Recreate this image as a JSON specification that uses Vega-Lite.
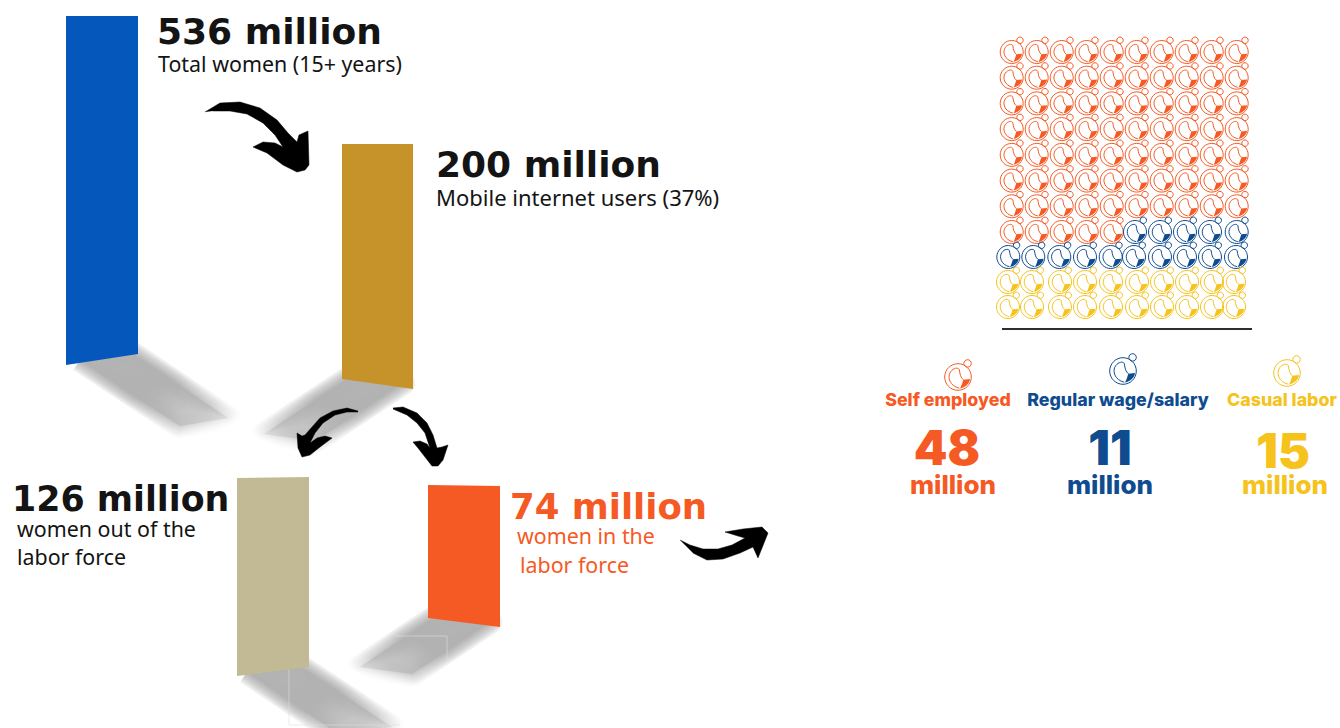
{
"$schema":"https://vega.github.io/schema/vega-lite/v6.json",
"width":1340,"height":728,"padding":0,"autosize":{"type":"none"},"background":"#ffffff",
"config":{"view":{"stroke":null}},
"params":[
{"name":"fadeRight","value":{"gradient":"linear","x1":0,"y1":0,"x2":1,"y2":1,"stops":[{"offset":0,"color":"rgba(150,150,150,0.95)"},{"offset":0.5,"color":"rgba(150,150,150,1)"},{"offset":0.8,"color":"rgba(150,150,150,0.55)"},{"offset":1,"color":"rgba(150,150,150,0)"}]}},
{"name":"fadeLeft","value":{"gradient":"linear","x1":1,"y1":0,"x2":0,"y2":1,"stops":[{"offset":0,"color":"rgba(150,150,150,0.95)"},{"offset":0.5,"color":"rgba(150,150,150,1)"},{"offset":0.8,"color":"rgba(150,150,150,0.55)"},{"offset":1,"color":"rgba(150,150,150,0)"}]}}
],
"datasets":{
"columns":[
{"stage":"Total women","x":66,"y":16,"y2":365},{"stage":"Total women","x":138,"y":16,"y2":354},
{"stage":"Mobile internet users","x":342,"y":144,"y2":379},{"stage":"Mobile internet users","x":413,"y":144,"y2":389},
{"stage":"Out of the labor force","x":237,"y":478,"y2":676},{"stage":"Out of the labor force","x":309,"y":477,"y2":667},
{"stage":"In the labor force","x":428,"y":485,"y2":618},{"stage":"In the labor force","x":500,"y":486,"y2":627}
],
"castsRight":[
{"stage":"Total women","seq":1,"x":80,"y":360},{"stage":"Total women","seq":2,"x":130,"y":352},{"stage":"Total women","seq":3,"x":228,"y":418},{"stage":"Total women","seq":4,"x":180,"y":426},{"stage":"Total women","seq":5,"x":80,"y":360},
{"stage":"Out of the labor force","seq":1,"x":247,"y":672},{"stage":"Out of the labor force","seq":2,"x":298,"y":665},{"stage":"Out of the labor force","seq":3,"x":392,"y":727},{"stage":"Out of the labor force","seq":4,"x":340,"y":735},{"stage":"Out of the labor force","seq":5,"x":247,"y":672}
],
"castsLeft":[
{"stage":"Mobile internet users","seq":1,"x":352,"y":376},{"stage":"Mobile internet users","seq":2,"x":403,"y":383},{"stage":"Mobile internet users","seq":3,"x":315,"y":441},{"stage":"Mobile internet users","seq":4,"x":264,"y":434},{"stage":"Mobile internet users","seq":5,"x":352,"y":376},
{"stage":"In the labor force","seq":1,"x":438,"y":615},{"stage":"In the labor force","seq":2,"x":490,"y":622},{"stage":"In the labor force","seq":3,"x":412,"y":674},{"stage":"In the labor force","seq":4,"x":360,"y":667},{"stage":"In the labor force","seq":5,"x":438,"y":615}
],
"seams":[
{"x":289,"x2":289,"y":668,"y2":725},{"x":289,"x2":400,"y":725,"y2":725},
{"x":395,"x2":447,"y":636,"y2":636},{"x":447,"x2":447,"y":636,"y2":662}
],
"arrows":[
{"arrow":"a","seq":1,"x":205,"y":112},{"arrow":"a","seq":2,"x":220,"y":103},{"arrow":"a","seq":3,"x":240,"y":102},{"arrow":"a","seq":4,"x":260,"y":108},{"arrow":"a","seq":5,"x":277,"y":120},{"arrow":"a","seq":6,"x":288,"y":133},{"arrow":"a","seq":7,"x":297,"y":142},{"arrow":"a","seq":8,"x":299,"y":135},{"arrow":"a","seq":9,"x":308,"y":131},{"arrow":"a","seq":10,"x":309,"y":165},{"arrow":"a","seq":11,"x":305,"y":170},{"arrow":"a","seq":12,"x":297,"y":172},{"arrow":"a","seq":13,"x":283,"y":165},{"arrow":"a","seq":14,"x":267,"y":153},{"arrow":"a","seq":15,"x":253,"y":147},{"arrow":"a","seq":16,"x":263,"y":142},{"arrow":"a","seq":17,"x":275,"y":143},{"arrow":"a","seq":18,"x":283,"y":147},{"arrow":"a","seq":19,"x":275,"y":135},{"arrow":"a","seq":20,"x":263,"y":123},{"arrow":"a","seq":21,"x":247,"y":114},{"arrow":"a","seq":22,"x":230,"y":111},{"arrow":"a","seq":23,"x":213,"y":111},
{"arrow":"b","seq":1,"x":358,"y":411},{"arrow":"b","seq":2,"x":347,"y":408},{"arrow":"b","seq":3,"x":333,"y":411},{"arrow":"b","seq":4,"x":320,"y":418},{"arrow":"b","seq":5,"x":312,"y":427},{"arrow":"b","seq":6,"x":305,"y":435},{"arrow":"b","seq":7,"x":302,"y":436},{"arrow":"b","seq":8,"x":297,"y":433},{"arrow":"b","seq":9,"x":298,"y":448},{"arrow":"b","seq":10,"x":302,"y":457},{"arrow":"b","seq":11,"x":310,"y":455},{"arrow":"b","seq":12,"x":320,"y":447},{"arrow":"b","seq":13,"x":332,"y":438},{"arrow":"b","seq":14,"x":325,"y":436},{"arrow":"b","seq":15,"x":317,"y":438},{"arrow":"b","seq":16,"x":310,"y":443},{"arrow":"b","seq":17,"x":315,"y":433},{"arrow":"b","seq":18,"x":323,"y":423},{"arrow":"b","seq":19,"x":335,"y":415},{"arrow":"b","seq":20,"x":347,"y":412},{"arrow":"b","seq":21,"x":358,"y":412},
{"arrow":"c","seq":1,"x":393,"y":408},{"arrow":"c","seq":2,"x":403,"y":407},{"arrow":"c","seq":3,"x":417,"y":413},{"arrow":"c","seq":4,"x":427,"y":423},{"arrow":"c","seq":5,"x":433,"y":435},{"arrow":"c","seq":6,"x":437,"y":448},{"arrow":"c","seq":7,"x":442,"y":447},{"arrow":"c","seq":8,"x":448,"y":445},{"arrow":"c","seq":9,"x":443,"y":460},{"arrow":"c","seq":10,"x":438,"y":466},{"arrow":"c","seq":11,"x":432,"y":466},{"arrow":"c","seq":12,"x":425,"y":457},{"arrow":"c","seq":13,"x":418,"y":448},{"arrow":"c","seq":14,"x":413,"y":442},{"arrow":"c","seq":15,"x":420,"y":441},{"arrow":"c","seq":16,"x":427,"y":444},{"arrow":"c","seq":17,"x":430,"y":448},{"arrow":"c","seq":18,"x":425,"y":433},{"arrow":"c","seq":19,"x":417,"y":423},{"arrow":"c","seq":20,"x":407,"y":415},{"arrow":"c","seq":21,"x":393,"y":409},
{"arrow":"d","seq":1,"x":680,"y":540},{"arrow":"d","seq":2,"x":690,"y":545},{"arrow":"d","seq":3,"x":703,"y":549},{"arrow":"d","seq":4,"x":718,"y":549},{"arrow":"d","seq":5,"x":732,"y":545},{"arrow":"d","seq":6,"x":745,"y":538},{"arrow":"d","seq":7,"x":738,"y":536},{"arrow":"d","seq":8,"x":725,"y":532},{"arrow":"d","seq":9,"x":743,"y":529},{"arrow":"d","seq":10,"x":762,"y":527},{"arrow":"d","seq":11,"x":768,"y":533},{"arrow":"d","seq":12,"x":758,"y":558},{"arrow":"d","seq":13,"x":753,"y":547},{"arrow":"d","seq":14,"x":740,"y":553},{"arrow":"d","seq":15,"x":723,"y":559},{"arrow":"d","seq":16,"x":707,"y":560},{"arrow":"d","seq":17,"x":693,"y":553}
],
"baseline":[{"x":1002,"x2":1252,"y":329}],
"icons":[
{"x":1011.7,"y":52,"kind":"Self employed"},{"x":1036.7,"y":52,"kind":"Self employed"},{"x":1061.7,"y":52,"kind":"Self employed"},{"x":1086.7,"y":52,"kind":"Self employed"},{"x":1111.7,"y":52,"kind":"Self employed"},{"x":1136.7,"y":52,"kind":"Self employed"},{"x":1161.7,"y":52,"kind":"Self employed"},{"x":1186.7,"y":52,"kind":"Self employed"},{"x":1211.7,"y":52,"kind":"Self employed"},{"x":1236.7,"y":52,"kind":"Self employed"},
{"x":1011.7,"y":77.7,"kind":"Self employed"},{"x":1036.7,"y":77.7,"kind":"Self employed"},{"x":1061.7,"y":77.7,"kind":"Self employed"},{"x":1086.7,"y":77.7,"kind":"Self employed"},{"x":1111.7,"y":77.7,"kind":"Self employed"},{"x":1136.7,"y":77.7,"kind":"Self employed"},{"x":1161.7,"y":77.7,"kind":"Self employed"},{"x":1186.7,"y":77.7,"kind":"Self employed"},{"x":1211.7,"y":77.7,"kind":"Self employed"},{"x":1236.7,"y":77.7,"kind":"Self employed"},
{"x":1011.7,"y":103.4,"kind":"Self employed"},{"x":1036.7,"y":103.4,"kind":"Self employed"},{"x":1061.7,"y":103.4,"kind":"Self employed"},{"x":1086.7,"y":103.4,"kind":"Self employed"},{"x":1111.7,"y":103.4,"kind":"Self employed"},{"x":1136.7,"y":103.4,"kind":"Self employed"},{"x":1161.7,"y":103.4,"kind":"Self employed"},{"x":1186.7,"y":103.4,"kind":"Self employed"},{"x":1211.7,"y":103.4,"kind":"Self employed"},{"x":1236.7,"y":103.4,"kind":"Self employed"},
{"x":1011.7,"y":129.1,"kind":"Self employed"},{"x":1036.7,"y":129.1,"kind":"Self employed"},{"x":1061.7,"y":129.1,"kind":"Self employed"},{"x":1086.7,"y":129.1,"kind":"Self employed"},{"x":1111.7,"y":129.1,"kind":"Self employed"},{"x":1136.7,"y":129.1,"kind":"Self employed"},{"x":1161.7,"y":129.1,"kind":"Self employed"},{"x":1186.7,"y":129.1,"kind":"Self employed"},{"x":1211.7,"y":129.1,"kind":"Self employed"},{"x":1236.7,"y":129.1,"kind":"Self employed"},
{"x":1011.7,"y":154.9,"kind":"Self employed"},{"x":1036.7,"y":154.9,"kind":"Self employed"},{"x":1061.7,"y":154.9,"kind":"Self employed"},{"x":1086.7,"y":154.9,"kind":"Self employed"},{"x":1111.7,"y":154.9,"kind":"Self employed"},{"x":1136.7,"y":154.9,"kind":"Self employed"},{"x":1161.7,"y":154.9,"kind":"Self employed"},{"x":1186.7,"y":154.9,"kind":"Self employed"},{"x":1211.7,"y":154.9,"kind":"Self employed"},{"x":1236.7,"y":154.9,"kind":"Self employed"},
{"x":1011.7,"y":180.6,"kind":"Self employed"},{"x":1036.7,"y":180.6,"kind":"Self employed"},{"x":1061.7,"y":180.6,"kind":"Self employed"},{"x":1086.7,"y":180.6,"kind":"Self employed"},{"x":1111.7,"y":180.6,"kind":"Self employed"},{"x":1136.7,"y":180.6,"kind":"Self employed"},{"x":1161.7,"y":180.6,"kind":"Self employed"},{"x":1186.7,"y":180.6,"kind":"Self employed"},{"x":1211.7,"y":180.6,"kind":"Self employed"},{"x":1236.7,"y":180.6,"kind":"Self employed"},
{"x":1011.7,"y":206.3,"kind":"Self employed"},{"x":1036.7,"y":206.3,"kind":"Self employed"},{"x":1061.7,"y":206.3,"kind":"Self employed"},{"x":1086.7,"y":206.3,"kind":"Self employed"},{"x":1111.7,"y":206.3,"kind":"Self employed"},{"x":1136.7,"y":206.3,"kind":"Self employed"},{"x":1161.7,"y":206.3,"kind":"Self employed"},{"x":1186.7,"y":206.3,"kind":"Self employed"},{"x":1211.7,"y":206.3,"kind":"Self employed"},{"x":1236.7,"y":206.3,"kind":"Self employed"},
{"x":1011.7,"y":232,"kind":"Self employed"},{"x":1036.7,"y":232,"kind":"Self employed"},{"x":1061.7,"y":232,"kind":"Self employed"},{"x":1086.7,"y":232,"kind":"Self employed"},{"x":1111.7,"y":232,"kind":"Self employed"},
{"x":1135,"y":232,"kind":"Regular wage/salary"},{"x":1160,"y":232,"kind":"Regular wage/salary"},{"x":1185,"y":232,"kind":"Regular wage/salary"},{"x":1210,"y":232,"kind":"Regular wage/salary"},{"x":1236.7,"y":232,"kind":"Regular wage/salary"},
{"x":1008.3,"y":257,"kind":"Regular wage/salary"},{"x":1033.3,"y":257,"kind":"Regular wage/salary"},{"x":1059.3,"y":257,"kind":"Regular wage/salary"},{"x":1085,"y":257,"kind":"Regular wage/salary"},{"x":1110.7,"y":257,"kind":"Regular wage/salary"},{"x":1134,"y":257,"kind":"Regular wage/salary"},{"x":1160,"y":257,"kind":"Regular wage/salary"},{"x":1185,"y":257,"kind":"Regular wage/salary"},{"x":1210,"y":257,"kind":"Regular wage/salary"},{"x":1236,"y":257,"kind":"Regular wage/salary"},
{"x":1008,"y":282,"kind":"Casual labor"},{"x":1032,"y":282,"kind":"Casual labor"},{"x":1060,"y":282,"kind":"Casual labor"},{"x":1085,"y":282,"kind":"Casual labor"},{"x":1111,"y":282,"kind":"Casual labor"},{"x":1137,"y":282,"kind":"Casual labor"},{"x":1162,"y":282,"kind":"Casual labor"},{"x":1187,"y":282,"kind":"Casual labor"},{"x":1212,"y":282,"kind":"Casual labor"},{"x":1234,"y":282,"kind":"Casual labor"},
{"x":1008,"y":307,"kind":"Casual labor"},{"x":1032,"y":307,"kind":"Casual labor"},{"x":1060,"y":307,"kind":"Casual labor"},{"x":1085,"y":307,"kind":"Casual labor"},{"x":1111,"y":307,"kind":"Casual labor"},{"x":1137,"y":307,"kind":"Casual labor"},{"x":1162,"y":307,"kind":"Casual labor"},{"x":1187,"y":307,"kind":"Casual labor"},{"x":1212,"y":307,"kind":"Casual labor"},{"x":1234,"y":307,"kind":"Casual labor"}
],
"keyIcons":[
{"x":958,"y":377,"kind":"Self employed"},{"x":1123,"y":371,"kind":"Regular wage/salary"},{"x":1287,"y":373,"kind":"Casual labor"}
],
"headlinesA":[
{"x":157,"y":44,"label":"536 million","kind":"Overall"},
{"x":436,"y":177,"label":"200 million","kind":"Overall"}
],
"headlinesB":[{"x":12,"y":511,"label":"126 million","kind":"Overall"}],
"headlinesC":[{"x":510,"y":519,"label":"74 million","kind":"Self employed"}],
"notes":[
{"x":158,"y":72,"label":"Total women (15+ years)","kind":"Overall"},
{"x":17,"y":537,"label":"women out of the","kind":"Overall"},
{"x":17,"y":565,"label":"labor force","kind":"Overall"},
{"x":517,"y":544,"label":"women in the","kind":"Self employed"},
{"x":520,"y":573,"label":"labor force","kind":"Self employed"}
],
"notesWide":[{"x":436,"y":206,"label":"Mobile internet users (37%)","kind":"Overall"}],
"keyLabels":[
{"x":948,"y":406,"label":"Self employed","kind":"Self employed"},
{"x":1118,"y":406,"label":"Regular wage/salary","kind":"Regular wage/salary"},
{"x":1282,"y":406,"label":"Casual labor","kind":"Casual labor"}
],
"keyValues":[
{"x":947,"y":465,"label":"48","kind":"Self employed"},
{"x":1110,"y":465,"label":"11","kind":"Regular wage/salary"},
{"x":1283,"y":468,"label":"15","kind":"Casual labor"}
],
"keyUnits":[
{"x":953,"y":494,"label":"million","kind":"Self employed"},
{"x":1110,"y":494,"label":"million","kind":"Regular wage/salary"},
{"x":1285,"y":494,"label":"million","kind":"Casual labor"}
]
},
"encoding":{
"x":{"field":"x","type":"quantitative","axis":null,"scale":{"domain":[0,1340],"range":[0,1340],"nice":false,"zero":false}},
"y":{"field":"y","type":"quantitative","axis":null,"scale":{"domain":[0,728],"range":[0,728],"nice":false,"zero":false}}
},
"layer":[
{"data":{"name":"castsRight"},"mark":{"type":"line","fill":{"expr":"fadeRight"},"stroke":{"expr":"fadeRight"},"strokeJoin":"round","strokeWidth":24,"opacity":0.16},"encoding":{"order":{"field":"seq","type":"quantitative"},"detail":{"field":"stage"}}},
{"data":{"name":"castsRight"},"mark":{"type":"line","fill":{"expr":"fadeRight"},"stroke":{"expr":"fadeRight"},"strokeJoin":"round","strokeWidth":20,"opacity":0.16},"encoding":{"order":{"field":"seq","type":"quantitative"},"detail":{"field":"stage"}}},
{"data":{"name":"castsRight"},"mark":{"type":"line","fill":{"expr":"fadeRight"},"stroke":{"expr":"fadeRight"},"strokeJoin":"round","strokeWidth":16,"opacity":0.16},"encoding":{"order":{"field":"seq","type":"quantitative"},"detail":{"field":"stage"}}},
{"data":{"name":"castsRight"},"mark":{"type":"line","fill":{"expr":"fadeRight"},"stroke":{"expr":"fadeRight"},"strokeJoin":"round","strokeWidth":12,"opacity":0.16},"encoding":{"order":{"field":"seq","type":"quantitative"},"detail":{"field":"stage"}}},
{"data":{"name":"castsRight"},"mark":{"type":"line","fill":{"expr":"fadeRight"},"stroke":{"expr":"fadeRight"},"strokeJoin":"round","strokeWidth":8,"opacity":0.16},"encoding":{"order":{"field":"seq","type":"quantitative"},"detail":{"field":"stage"}}},
{"data":{"name":"castsRight"},"mark":{"type":"line","fill":{"expr":"fadeRight"},"stroke":{"expr":"fadeRight"},"strokeJoin":"round","strokeWidth":4,"opacity":0.16},"encoding":{"order":{"field":"seq","type":"quantitative"},"detail":{"field":"stage"}}},
{"data":{"name":"castsRight"},"mark":{"type":"line","fill":{"expr":"fadeRight"},"stroke":{"expr":"fadeRight"},"strokeJoin":"round","strokeWidth":1,"opacity":0.16},"encoding":{"order":{"field":"seq","type":"quantitative"},"detail":{"field":"stage"}}},
{"data":{"name":"castsLeft"},"mark":{"type":"line","fill":{"expr":"fadeLeft"},"stroke":{"expr":"fadeLeft"},"strokeJoin":"round","strokeWidth":24,"opacity":0.16},"encoding":{"order":{"field":"seq","type":"quantitative"},"detail":{"field":"stage"}}},
{"data":{"name":"castsLeft"},"mark":{"type":"line","fill":{"expr":"fadeLeft"},"stroke":{"expr":"fadeLeft"},"strokeJoin":"round","strokeWidth":20,"opacity":0.16},"encoding":{"order":{"field":"seq","type":"quantitative"},"detail":{"field":"stage"}}},
{"data":{"name":"castsLeft"},"mark":{"type":"line","fill":{"expr":"fadeLeft"},"stroke":{"expr":"fadeLeft"},"strokeJoin":"round","strokeWidth":16,"opacity":0.16},"encoding":{"order":{"field":"seq","type":"quantitative"},"detail":{"field":"stage"}}},
{"data":{"name":"castsLeft"},"mark":{"type":"line","fill":{"expr":"fadeLeft"},"stroke":{"expr":"fadeLeft"},"strokeJoin":"round","strokeWidth":12,"opacity":0.16},"encoding":{"order":{"field":"seq","type":"quantitative"},"detail":{"field":"stage"}}},
{"data":{"name":"castsLeft"},"mark":{"type":"line","fill":{"expr":"fadeLeft"},"stroke":{"expr":"fadeLeft"},"strokeJoin":"round","strokeWidth":8,"opacity":0.16},"encoding":{"order":{"field":"seq","type":"quantitative"},"detail":{"field":"stage"}}},
{"data":{"name":"castsLeft"},"mark":{"type":"line","fill":{"expr":"fadeLeft"},"stroke":{"expr":"fadeLeft"},"strokeJoin":"round","strokeWidth":4,"opacity":0.16},"encoding":{"order":{"field":"seq","type":"quantitative"},"detail":{"field":"stage"}}},
{"data":{"name":"castsLeft"},"mark":{"type":"line","fill":{"expr":"fadeLeft"},"stroke":{"expr":"fadeLeft"},"strokeJoin":"round","strokeWidth":1,"opacity":0.16},"encoding":{"order":{"field":"seq","type":"quantitative"},"detail":{"field":"stage"}}},
{"data":{"name":"seams"},"mark":{"type":"rule","stroke":"#dedede","strokeWidth":1,"opacity":0.6},"encoding":{"x2":{"field":"x2"},"y2":{"field":"y2"}}},
{"data":{"name":"columns"},"mark":{"type":"area","opacity":1},"encoding":{"y2":{"field":"y2"},"detail":{"field":"stage"},"color":{"field":"stage","type":"nominal","legend":null,"scale":{"domain":["Self employed","Regular wage/salary","Casual labor","Overall","Total women","Mobile internet users","Out of the labor force","In the labor force"],"range":["#F65A24","#0F4C8F","#F5C31C","#141414","#0557BC","#C6932A","#C2B995","#F65A24"]}}}},
{"data":{"name":"arrows"},"mark":{"type":"line","fill":"#000000","stroke":"#000000","strokeWidth":0.5,"strokeJoin":"round"},"encoding":{"order":{"field":"seq","type":"quantitative"},"detail":{"field":"arrow"}}},
{"data":{"name":"baseline"},"mark":{"type":"rule","stroke":"#2E2E2E","strokeWidth":1.8},"encoding":{"x2":{"field":"x2"}}},
{"data":{"name":"icons"},"mark":{"type":"point","filled":false,"opacity":1,"size":529,"strokeWidth":1,"shape":"M1 0A1 1 0 1 1 -1 0A1 1 0 1 1 1 0ZM1 -1.02A.28 .28 0 1 1 .44 -1.02A.28 .28 0 1 1 1 -1.02ZM.1 .84C-.6 .7 -.85 0 -.55 -.4C-.35 -.68 0 -.75 .1 -.55C.15 -.2 .2 .05 .4 .2"},"encoding":{"color":{"field":"kind","type":"nominal","legend":null}}},
{"data":{"name":"icons"},"mark":{"type":"point","filled":true,"opacity":1,"size":529,"strokeWidth":0,"shape":"M.4 .2L.9 .15C.88 .45 .6 .78 .15 .86C.3 .6 .33 .4 .4 .2Z"},"encoding":{"color":{"field":"kind","type":"nominal","legend":null}}},
{"data":{"name":"keyIcons"},"mark":{"type":"point","filled":false,"opacity":1,"size":708,"strokeWidth":1,"shape":"M1 0A1 1 0 1 1 -1 0A1 1 0 1 1 1 0ZM1 -1.02A.28 .28 0 1 1 .44 -1.02A.28 .28 0 1 1 1 -1.02ZM.1 .84C-.6 .7 -.85 0 -.55 -.4C-.35 -.68 0 -.75 .1 -.55C.15 -.2 .2 .05 .4 .2"},"encoding":{"color":{"field":"kind","type":"nominal","legend":null}}},
{"data":{"name":"keyIcons"},"mark":{"type":"point","filled":true,"opacity":1,"size":708,"strokeWidth":0,"shape":"M.4 .2L.9 .15C.88 .45 .6 .78 .15 .86C.3 .6 .33 .4 .4 .2Z"},"encoding":{"color":{"field":"kind","type":"nominal","legend":null}}},
{"data":{"name":"headlinesA"},"mark":{"type":"text","align":"left","baseline":"alphabetic","font":"DejaVu Sans","fontWeight":"bold","fontSize":36},"encoding":{"text":{"field":"label"},"color":{"field":"kind","type":"nominal","legend":null}}},
{"data":{"name":"headlinesB"},"mark":{"type":"text","align":"left","baseline":"alphabetic","font":"DejaVu Sans","fontWeight":"bold","fontSize":34.8},"encoding":{"text":{"field":"label"},"color":{"field":"kind","type":"nominal","legend":null}}},
{"data":{"name":"headlinesC"},"mark":{"type":"text","align":"left","baseline":"alphabetic","font":"DejaVu Sans","fontWeight":"bold","fontSize":35.5},"encoding":{"text":{"field":"label"},"color":{"field":"kind","type":"nominal","legend":null}}},
{"data":{"name":"notes"},"mark":{"type":"text","align":"left","baseline":"alphabetic","font":"Noto Sans","fontSize":21.4},"encoding":{"text":{"field":"label"},"color":{"field":"kind","type":"nominal","legend":null}}},
{"data":{"name":"notesWide"},"mark":{"type":"text","align":"left","baseline":"alphabetic","font":"Noto Sans","fontSize":22},"encoding":{"text":{"field":"label"},"color":{"field":"kind","type":"nominal","legend":null}}},
{"data":{"name":"keyLabels"},"mark":{"type":"text","align":"center","baseline":"alphabetic","font":"Inter","fontWeight":800,"fontSize":17.8},"encoding":{"text":{"field":"label"},"color":{"field":"kind","type":"nominal","legend":null}}},
{"data":{"name":"keyValues"},"mark":{"type":"text","align":"center","baseline":"alphabetic","font":"Inter","fontWeight":900,"fontSize":48},"encoding":{"text":{"field":"label"},"color":{"field":"kind","type":"nominal","legend":null}}},
{"data":{"name":"keyUnits"},"mark":{"type":"text","align":"center","baseline":"alphabetic","font":"Inter","fontWeight":800,"fontSize":26},"encoding":{"text":{"field":"label"},"color":{"field":"kind","type":"nominal","legend":null}}}
]
}
